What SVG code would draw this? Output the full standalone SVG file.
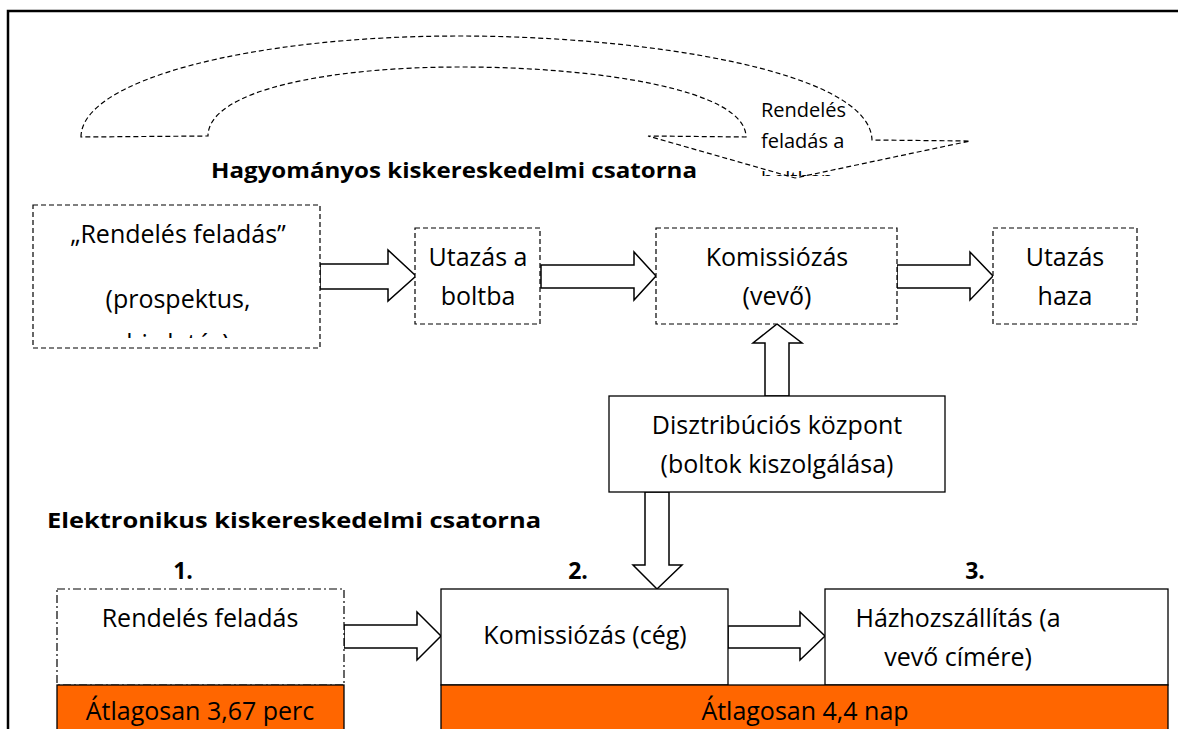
<svg xmlns="http://www.w3.org/2000/svg" width="1178" height="729" viewBox="0 0 1178 729">
<defs>
<style>
text{font-family:"Open Sans","Liberation Sans",sans-serif;fill:#000;}
.t{font-size:25px;text-anchor:middle;}
.h{font-size:22px;font-weight:bold;}
.n{font-size:23px;font-weight:bold;text-anchor:middle;}
.s{font-size:20px;}
.dash{fill:#fff;stroke:#000;stroke-width:1.2;stroke-dasharray:5,3;}
.dd{fill:#fff;stroke:#000;stroke-width:1.2;stroke-dasharray:8,3,2,3;}
.solid{fill:#fff;stroke:#000;stroke-width:1.3;}
.bar{fill:#FF6600;stroke:#000;stroke-width:1.3;}
.arr{fill:#fff;stroke:#000;stroke-width:1.5;stroke-linejoin:miter;}
</style>
<clipPath id="c1"><rect x="33" y="205" width="287" height="133"/></clipPath>
<clipPath id="c2"><rect x="750" y="95" width="120" height="81"/></clipPath>
</defs>
<rect width="1178" height="729" fill="#fff"/>
<!-- frame -->
<path d="M8,729 V11 H1178" fill="none" stroke="#000" stroke-width="2.5"/>

<!-- curved arrow -->
<g id="curved-arrow">
<path class="dash" d="M81,137 C81,80 250,36 460,36 C640,36 870,70 872,140 L970,141 L795,178 L648,136 L746,137 C746,90 600,67 460,67 C330,67 208,90 208,136 Z" style="fill:none"/>
<g clip-path="url(#c2)">
<text class="s" x="761" y="117">Rendelés</text>
<text class="s" x="761" y="148">feladás a</text>
<text class="s" x="761" y="186">boltban</text>
</g>
</g>

<text class="h" x="211" y="178" textLength="486" lengthAdjust="spacingAndGlyphs">Hagyományos kiskereskedelmi csatorna</text>
<text class="h" x="47" y="528" textLength="494" lengthAdjust="spacingAndGlyphs">Elektronikus kiskereskedelmi csatorna</text>

<g id="connectors">
<path class="arr" d="M320,264 H388 V250 L416,276 L388,301 V289 H320 Z"/>
<path class="arr" d="M541,265 H634 V252 L656,276 L634,300 V288 H541 Z"/>
<path class="arr" d="M897,265 H970 V252 L993,276 L970,300 V288 H897 Z"/>
<path class="arr" d="M765,396 V343 H753 L777,324 L802,343 H789 V396 Z"/>
<path class="arr" d="M645,492 V565 H633 L657,589 L682,565 H669 V492 Z"/>
<path class="arr" d="M344,625 H417 V612 L441,636 L417,660 V648 H344 Z"/>
<path class="arr" d="M728,626 H800 V612 L825,636 L800,660 V648 H728 Z"/>
</g>

<g id="n1">
<rect class="dash" x="33" y="205" width="287" height="143"/>
<g clip-path="url(#c1)">
<text class="t" x="178" y="243">„Rendelés feladás”</text>
<text class="t" x="178" y="308">(prospektus,</text>
<text class="t" x="178" y="352">hirdetés)</text>
</g>
</g>
<g id="n2">
<rect class="dash" x="415" y="228" width="125" height="96"/>
<text class="t" x="478" y="266">Utazás a</text>
<text class="t" x="478" y="305">boltba</text>
</g>
<g id="n3">
<rect class="dash" x="656" y="228" width="241" height="96"/>
<text class="t" x="777" y="266">Komissiózás</text>
<text class="t" x="777" y="305">(vevő)</text>
</g>
<g id="n4">
<rect class="dash" x="993" y="228" width="144" height="96"/>
<text class="t" x="1065" y="266">Utazás</text>
<text class="t" x="1065" y="305">haza</text>
</g>
<g id="n5">
<rect class="solid" x="609" y="396" width="336" height="96"/>
<text class="t" x="777" y="434">Disztribúciós központ</text>
<text class="t" x="777" y="473">(boltok kiszolgálása)</text>
</g>

<text class="n" x="183" y="579">1.</text>
<text class="n" x="578" y="579">2.</text>
<text class="n" x="975" y="579">3.</text>

<g id="n6">
<rect class="dd" x="57" y="589" width="287" height="96"/>
<text class="t" x="200" y="627">Rendelés feladás</text>
</g>
<g id="n7">
<rect class="solid" x="441" y="589" width="287" height="96"/>
<text class="t" x="585" y="644">Komissiózás (cég)</text>
</g>
<g id="n8">
<rect class="solid" x="825" y="589" width="343" height="96"/>
<text class="t" x="958" y="627">Házhozszállítás (a</text>
<text class="t" x="958" y="666">vevő címére)</text>
</g>
<g id="bar1">
<rect class="bar" x="57" y="685" width="287" height="50"/>
<text class="t" x="200" y="720">Átlagosan 3,67 perc</text>
</g>
<g id="bar2">
<rect class="bar" x="441" y="685" width="727" height="50"/>
<text class="t" x="805" y="720">Átlagosan 4,4 nap</text>
</g>
</svg>
